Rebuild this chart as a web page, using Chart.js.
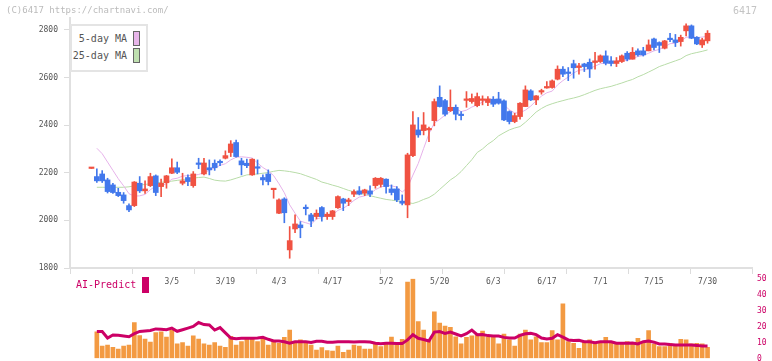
<!DOCTYPE html>
<html>
<head>
<meta charset="utf-8">
<script src="https://cdn.jsdelivr.net/npm/chart.js"></script>
<style>
  body { margin: 0; background: #fff; width: 772px; height: 361px; overflow: hidden; position: relative; font-family: "DejaVu Sans Mono", monospace; }
  canvas { position: absolute; left: 0; }
  #price { top: 0; }
  #vol { top: 270px; }
  .txt { position: absolute; white-space: pre; }
  #copy { left: 6px; top: 5px; font-size: 9px; color: #bbb; }
  #code { left: 733px; top: 5px; font-size: 10px; color: #c4c4c4; }
  #legend { position: absolute; left: 70px; top: 24px; width: 74px; height: 44px; border: 2px solid #e4e4e4; background: #fff; }
  .row { position: absolute; right: 6px; font-size: 10px; color: #555; height: 15px; line-height: 15px; }
  .row i { display: inline-block; width: 5px; height: 13px; border: 1px solid #666; vertical-align: top; margin-left: 6px; }
  #ai { left: 76px; top: 279px; font-size: 10px; color: #cc0066; }
  #aibox { position: absolute; left: 142px; top: 277px; width: 7px; height: 16px; background: #cc0066; }
</style>
</head>
<body>
<canvas id="price" width="772" height="300"></canvas>
<canvas id="vol" width="772" height="95"></canvas>
<div class="txt" id="copy">(C)6417 https://chartnavi.com/</div>
<div class="txt" id="code">6417</div>
<div id="legend">
  <div class="row" style="top:5px">5-day MA<i style="background:#e8b6ea"></i></div>
  <div class="row" style="top:22px">25-day MA<i style="background:#bfe0b0"></i></div>
</div>
<div class="txt" id="ai">AI-Predict</div>
<div id="aibox"></div>
<script>
// trading days 2025/2/10 - 7/30
const dates = [
  '2/10','2/12','2/13','2/14','2/17','2/18','2/19','2/20','2/21','2/25','2/26','2/27','2/28',
  '3/3','3/4','3/5','3/6','3/7','3/10','3/11','3/12','3/13','3/14','3/17','3/18','3/19','3/21','3/24','3/25','3/26','3/27','3/28','3/31',
  '4/1','4/2','4/3','4/4','4/7','4/8','4/9','4/10','4/11','4/14','4/15','4/16','4/17','4/18','4/21','4/22','4/23','4/24','4/25','4/28','4/30',
  '5/1','5/2','5/7','5/8','5/9','5/12','5/13','5/14','5/15','5/16','5/19','5/20','5/21','5/22','5/23','5/26','5/27','5/28','5/29','5/30',
  '6/2','6/3','6/4','6/5','6/6','6/9','6/10','6/11','6/12','6/13','6/16','6/17','6/18','6/19','6/20','6/23','6/24','6/25','6/26','6/27','6/30',
  '7/1','7/2','7/3','7/4','7/7','7/8','7/9','7/10','7/11','7/14','7/15','7/16','7/17','7/18','7/22','7/23','7/24','7/25','7/28','7/29','7/30'
];
const tickDates = ['3/5','3/19','4/3','4/17','5/2','5/20','6/3','6/17','7/1','7/15','7/30'];
const priceTicks = [1800, 2000, 2200, 2400, 2600, 2800];
const volTicks = [0, 10, 20, 30, 40, 50];

const open = [
  2218,2184,2195,2170,2149,2118,2107,2062,2062,2156,
  2124,2146,2187,2142,2158,2198,2221,2156,2180,2146,
  2239,2195,2221,2240,2246,2261,2285,2327,2250,2240,
  2191,2221,2180,2195,2129,2030,2090,1876,1964,1981,
  2053,2023,2016,2054,2016,2016,2053,2090,2079,2110,
  2124,2114,2124,2146,2151,2173,2132,2132,2081,2065,
  2272,2380,2377,2380,2419,2517,2503,2461,2475,2446,
  2504,2499,2482,2504,2495,2509,2510,2502,2457,2415,
  2436,2478,2544,2506,2539,2556,2558,2593,2635,2620,
  2658,2642,2657,2664,2663,2667,2691,2670,2659,2667,
  2702,2677,2712,2712,2712,2762,2747,2723,2762,2758,
  2751,2796,2817,2769,2737,2754
];
const high = [
  2220,2216,2209,2177,2156,2135,2117,2069,2163,2184,
  2166,2198,2191,2173,2189,2259,2245,2198,2191,2205,
  2261,2261,2254,2254,2254,2292,2335,2337,2261,2257,
  2259,2254,2191,2212,2131,2090,2095,1974,2023,1995,
  2065,2030,2044,2058,2033,2042,2103,2093,2093,2128,
  2142,2131,2145,2180,2180,2175,2149,2142,2107,2282,
  2457,2432,2453,2392,2510,2565,2508,2548,2485,2457,
  2541,2531,2535,2523,2520,2520,2538,2506,2460,2450,
  2495,2565,2549,2524,2551,2583,2590,2649,2646,2642,
  2673,2660,2660,2678,2706,2695,2712,2688,2684,2695,
  2709,2726,2720,2727,2758,2766,2750,2756,2786,2781,
  2778,2825,2821,2772,2765,2797
];
const low = [
  2218,2159,2159,2115,2113,2100,2072,2037,2058,2117,
  2113,2142,2104,2100,2135,2196,2196,2149,2146,2139,
  2217,2191,2191,2210,2230,2258,2268,2266,2191,2221,
  2189,2195,2149,2149,2093,2028,1990,1841,1948,1927,
  2023,1974,2006,1997,2004,2004,2050,2041,2062,2100,
  2107,2104,2100,2135,2140,2114,2107,2079,2065,2011,
  2268,2349,2359,2331,2397,2476,2439,2457,2422,2422,
  2475,2492,2477,2485,2482,2478,2488,2419,2405,2410,
  2425,2478,2503,2486,2530,2555,2555,2590,2604,2587,
  2597,2614,2625,2600,2635,2663,2653,2649,2646,2663,
  2670,2677,2690,2690,2712,2716,2705,2720,2751,2730,
  2732,2775,2763,2738,2726,2744
];
const close = [
  2220,2166,2166,2121,2117,2104,2083,2044,2161,2124,
  2132,2184,2117,2156,2187,2221,2202,2166,2163,2195,
  2235,2241,2212,2221,2242,2272,2321,2268,2233,2230,
  2257,2219,2170,2163,2131,2086,2032,1915,1985,1969,
  2049,1997,2030,2016,2026,2040,2100,2072,2086,2121,
  2110,2128,2110,2177,2177,2142,2117,2086,2072,2275,
  2401,2359,2401,2385,2499,2478,2446,2475,2446,2440,
  2508,2512,2520,2507,2510,2488,2492,2422,2415,2440,
  2492,2548,2506,2523,2542,2560,2586,2635,2614,2617,
  2641,2649,2646,2636,2670,2691,2660,2659,2670,2691,
  2677,2706,2695,2695,2737,2726,2735,2754,2759,2747,
  2769,2817,2765,2741,2758,2786
];
const ma5 = [
  null,2303,2280,2245,2210,2175,2145,2112,2102,2103,
  2109,2129,2144,2143,2155,2173,2177,2186,2188,2189,
  2193,2200,2210,2221,2231,2238,2254,2265,2267,2265,
  2262,2241,2222,2208,2188,2154,2116,2065,2030,1997,
  1990,1983,2006,2012,2024,2022,2042,2051,2065,2084,
  2098,2103,2111,2129,2140,2147,2145,2140,2119,2138,
  2190,2239,2302,2364,2409,2424,2442,2457,2469,2457,
  2463,2476,2485,2497,2511,2507,2503,2484,2465,2451,
  2452,2463,2480,2502,2522,2536,2543,2569,2587,2602,
  2619,2631,2633,2638,2648,2658,2661,2663,2670,2674,
  2671,2681,2688,2693,2702,2712,2718,2729,2742,2744,
  2753,2769,2771,2768,2770,2773
];
const ma25 = [
  null,2139,2139,2139,2139,2139,2139,2141,2145,2148,
  2151,2154,2157,2160,2162,2165,2168,2171,2175,2178,
  2180,2182,2176,2169,2166,2165,2170,2177,2184,2191,
  2193,2195,2198,2201,2206,2210,2208,2205,2201,2196,
  2188,2180,2172,2161,2155,2148,2142,2134,2126,2120,
  2114,2109,2104,2098,2093,2088,2085,2082,2078,2075,
  2071,2078,2088,2096,2110,2130,2150,2170,2185,2205,
  2230,2255,2285,2300,2320,2335,2355,2368,2380,2388,
  2394,2412,2433,2455,2470,2482,2490,2497,2503,2509,
  2514,2520,2528,2537,2546,2553,2558,2563,2570,2577,
  2585,2592,2603,2612,2623,2634,2646,2654,2662,2670,
  2678,2692,2700,2705,2710,2716
];
const volume = [
  null,16.6,7.8,8.4,7.0,5.9,7.8,8.4,22.4,14.3,
  12.2,10.3,16.2,16.6,13.4,17.8,9.1,9.9,7.8,14.1,
  12.2,9.1,8.4,9.9,7.8,7.0,13.8,8.4,10.5,13.0,
  12.1,10.5,12.6,8.4,11.2,9.5,13.2,17.8,10.1,11.6,
  9.5,8.4,5.3,6.8,4.9,4.7,7.8,3.9,5.3,8.4,
  7.8,5.9,5.9,9.5,7.4,9.9,13.4,10.1,12.0,47.8,
  49.7,23.0,17.8,11.5,29.2,22.2,20.3,19.5,13.6,9.1,
  13.2,14.1,15.3,17.2,13.6,13.6,9.1,15.3,11.6,7.8,
  15.3,17.8,11.6,13.6,9.9,9.9,17.4,11.6,34.1,10.5,
  9.5,6.4,10.5,11.6,9.5,10.5,13.2,10.5,9.5,9.5,
  10.5,9.1,12.6,10.5,17.4,8.9,7.4,7.4,9.5,7.8,
  12.0,11.6,9.1,9.5,9.1,7.0
];
const aiPredict = [
  null,16.8,16.8,12.8,14.7,14.5,14.1,13.6,15.5,16.9,
  17.2,17.5,18.5,18.3,18.0,19.0,17.0,18.0,19.0,20.0,
  22.5,21.2,21.0,17.8,19.3,16.0,12.8,12.4,12.6,12.6,
  12.6,12.8,13.2,12.0,11.0,11.0,10.5,9.5,10.5,10.5,
  10.5,10.0,10.8,10.8,10.2,10.2,10.5,10.5,10.5,10.3,
  10.5,10.5,10.3,9.5,9.2,9.5,9.5,9.3,9.3,11.6,
  14.9,12.6,11.9,11.0,16.5,16.8,15.7,16.5,15.3,14.1,
  15.5,17.8,14.9,15.0,14.3,14.1,14.1,13.2,12.8,12.8,
  14.5,15.5,15.7,14.9,12.8,12.2,12.6,14.9,13.4,11.6,
  11.3,11.4,10.5,10.5,9.9,10.4,10.5,10.5,9.5,9.5,
  9.5,9.7,9.1,10.5,10.9,10.2,9.1,9.1,8.7,8.4,
  8.4,8.4,8.4,8.2,7.8,7.8
];

const RED = '#f05242', BLUE = '#4278ec';
const FONT = 'DejaVu Sans Mono';
const X_MIN = -4.01, X_MAX = 123.3;
const colors = close.map((c, i) => c >= open[i] ? RED : BLUE);
const pts = arr => arr.map((v, i) => ({ x: i, y: v }));

// x axis: evenly spaced tick marks plus date labels at their candles
function xTicks(scale) {
  const marks = [];
  for (let k = 0; k <= 11; k++) marks.push({ value: X_MIN + (X_MAX - X_MIN) * k / 11, lab: '' });
  const labs = tickDates.map(d => ({ value: dates.indexOf(d), lab: d, isLab: true }));
  scale.ticks = marks.concat(labs).sort((a, b) => a.value - b.value);
}

new Chart(document.getElementById('price'), {
  data: {
    datasets: [
      { type: 'bar', data: open.map((o, i) => ({ x: i, y: [o, close[i]] })), backgroundColor: colors,
        barThickness: 5, minBarLength: 1.5, grouped: false, order: 0 },
      { type: 'bar', data: low.map((l, i) => ({ x: i, y: [l, high[i]] })), backgroundColor: colors,
        barThickness: 1, minBarLength: 1, grouped: false, order: 1 },
      { type: 'line', label: '5-day MA', data: pts(ma5), borderColor: '#e6b2ea', borderWidth: 1,
        pointRadius: 0, tension: 0, order: 2 },
      { type: 'line', label: '25-day MA', data: pts(ma25), borderColor: '#b8dca8', borderWidth: 1,
        pointRadius: 0, tension: 0, order: 3 }
    ]
  },
  options: {
    responsive: false,
    animation: false,
    layout: { padding: { top: 18, right: 20, left: 0, bottom: 0 } },
    plugins: { legend: { display: false }, tooltip: { enabled: false } },
    scales: {
      x: {
        type: 'linear', min: X_MIN, max: X_MAX, position: 'bottom', offset: false,
        afterBuildTicks: xTicks,
        afterFit: s => { s.height = 32; },
        grid: { offset: false, drawOnChartArea: false, tickLength: 6,
                tickColor: c => (c.tick && c.tick.isLab) ? 'rgba(0,0,0,0)' : '#dcdcdc' },
        border: { color: '#e0e0e0', width: 2 },
        ticks: { autoSkip: false, maxRotation: 0, padding: 3, color: '#555', font: { family: FONT, size: 8 },
                 callback: (v, i, t) => t[i].lab }
      },
      y: {
        min: 1800, max: 2850, position: 'left',
        afterBuildTicks: s => { s.ticks = priceTicks.map(v => ({ value: v })); },
        afterFit: s => { s.width = 70; },
        grid: { drawOnChartArea: false, tickLength: 6, tickColor: '#dcdcdc' },
        border: { color: '#e0e0e0', width: 2 },
        ticks: { padding: 6, color: '#555', font: { family: FONT, size: 8 }, callback: v => String(v) }
      }
    }
  }
});

new Chart(document.getElementById('vol'), {
  data: {
    datasets: [
      { type: 'line', data: pts(aiPredict), borderColor: '#cc0066', borderWidth: 3,
        pointRadius: 0, tension: 0, order: 0 },
      { type: 'bar', data: pts(volume), backgroundColor: '#f39a42', barThickness: 4, grouped: false, order: 1 }
    ]
  },
  options: {
    responsive: false,
    animation: false,
    layout: { padding: { top: 8.5, right: 0, left: 70, bottom: 6.5 } },
    plugins: { legend: { display: false }, tooltip: { enabled: false } },
    scales: {
      x: { type: 'linear', min: X_MIN, max: X_MAX, display: false, offset: false, grid: { offset: false } },
      y: {
        min: 0, max: 50, position: 'right',
        afterBuildTicks: s => { s.ticks = volTicks.map(v => ({ value: v })); },
        afterFit: s => { s.width = 20; },
        grid: { drawOnChartArea: false, drawTicks: true, tickLength: 5, tickColor: 'rgba(0,0,0,0)' },
        border: { display: false },
        ticks: { padding: 0, color: '#cc0066', font: { family: FONT, size: 8 }, callback: v => String(v) }
      }
    }
  }
});
</script>
</body>
</html>
